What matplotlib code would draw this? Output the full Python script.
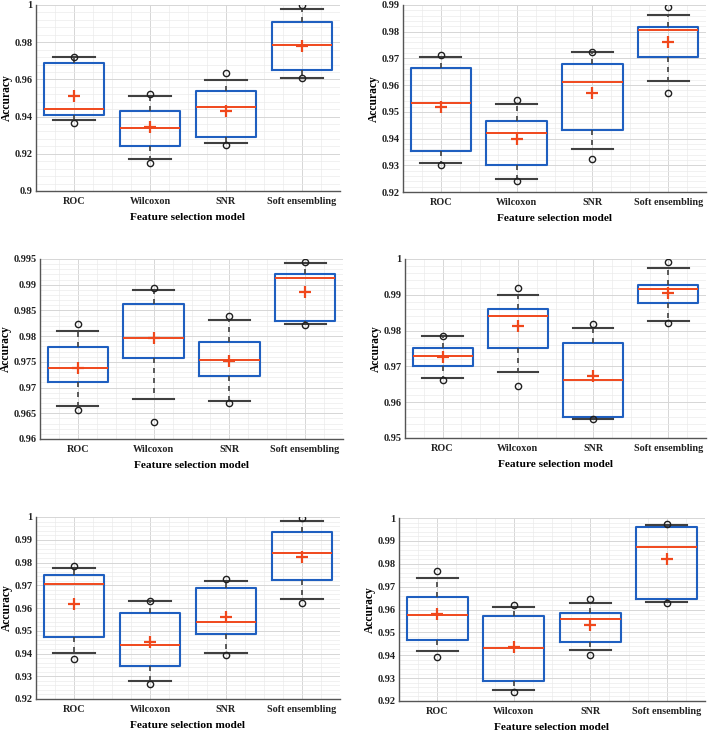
import matplotlib
matplotlib.use('Agg')
import matplotlib.pyplot as plt
from matplotlib.ticker import MultipleLocator, AutoMinorLocator, FuncFormatter

categories = ['ROC', 'Wilcoxon', 'SNR', 'Soft ensembling']

box_top = [
    [0.9689, 0.9431, 0.9540, 0.9907],
    [0.9666, 0.9466, 0.9678, 0.9819],
    [0.9779, 0.9862, 0.9789, 0.9921],
    [0.9752, 0.9860, 0.9765, 0.9928],
    [0.9747, 0.9580, 0.9688, 0.9933],
    [0.9655, 0.9573, 0.9585, 0.9959],
]
box_bottom = [
    [0.9410, 0.9242, 0.9289, 0.9650],
    [0.9354, 0.9301, 0.9432, 0.9704],
    [0.9710, 0.9758, 0.9722, 0.9830],
    [0.9701, 0.9751, 0.9558, 0.9877],
    [0.9471, 0.9347, 0.9486, 0.9723],
    [0.9468, 0.9286, 0.9458, 0.9647],
]
medians = [
    [0.9442, 0.9339, 0.9452, 0.9786],
    [0.9534, 0.9422, 0.9611, 0.9805],
    [0.9738, 0.9797, 0.9753, 0.9914],
    [0.9729, 0.9840, 0.9661, 0.9915],
    [0.9706, 0.9438, 0.9539, 0.9840],
    [0.9576, 0.9431, 0.9560, 0.9873],
]
means = [
    [0.9512, 0.9343, 0.9431, 0.9781],
    [0.9519, 0.9398, 0.9570, 0.9761],
    [0.9739, 0.9796, 0.9752, 0.9886],
    [0.9727, 0.9814, 0.9672, 0.9906],
    [0.9619, 0.9452, 0.9561, 0.9826],
    [0.9579, 0.9437, 0.9532, 0.9821],
]
whisker_high = [
    [0.9718, 0.9512, 0.9598, 0.9977],
    [0.9704, 0.9528, 0.9723, 0.9861],
    [0.9810, 0.9890, 0.9832, 0.9942],
    [0.9784, 0.9899, 0.9808, 0.9974],
    [0.9776, 0.9630, 0.9717, 0.9982],
    [0.9736, 0.9612, 0.9630, 0.9971],
]
whisker_low = [
    [0.9380, 0.9171, 0.9257, 0.9610],
    [0.9310, 0.9248, 0.9360, 0.9614],
    [0.9665, 0.9678, 0.9673, 0.9824],
    [0.9667, 0.9684, 0.9553, 0.9826],
    [0.9403, 0.9278, 0.9404, 0.9640],
    [0.9417, 0.9248, 0.9423, 0.9634],
]
max_points = [
    [0.9722, 0.9522, 0.9632, 0.9998],
    [0.9712, 0.9546, 0.9723, 0.9891],
    [0.9824, 0.9893, 0.9840, 0.9945],
    [0.9785, 0.9918, 0.9818, 0.9991],
    [0.9785, 0.9631, 0.9729, 0.9994],
    [0.9767, 0.9620, 0.9646, 0.9974],
]
min_points = [
    [0.9363, 0.9149, 0.9246, 0.9610],
    [0.9300, 0.9241, 0.9323, 0.9571],
    [0.9656, 0.9633, 0.9670, 0.9821],
    [0.9663, 0.9646, 0.9552, 0.9820],
    [0.9376, 0.9266, 0.9392, 0.9622],
    [0.9391, 0.9240, 0.9402, 0.9630],
]
y_limits = [(0.9, 1.0), (0.92, 0.99), (0.96, 0.995), (0.95, 1.0), (0.92, 1.0), (0.92, 1.0)]
y_steps = [0.02, 0.01, 0.005, 0.01, 0.01, 0.01]

W, H = 709, 736
# axes boxes in pixels: left, top, right, bottom
boxes_px = [
    (36, 5, 340, 191),
    (403, 5, 706, 192),
    (40, 259, 343, 439),
    (405, 259, 706, 438),
    (36, 517, 340, 699),
    (399, 518, 705, 701),
]

plt.rcParams['font.family'] = ['Liberation Serif', 'DejaVu Serif']
plt.rcParams['font.weight'] = 'bold'

BLUE = '#1f5fc0'
RED = '#f0481c'
DARK = '#404040'

fig = plt.figure(figsize=(W / 100, H / 100), dpi=100)

fmt = FuncFormatter(lambda v, p: '%g' % round(v, 4))

for i in range(6):
    l, t, r, b = boxes_px[i]
    ax = fig.add_axes([l / W, 1 - b / H, (r - l) / W, (b - t) / H])
    stats = []
    for j, cat in enumerate(categories):
        stats.append(dict(
            label=cat,
            med=medians[i][j],
            q1=box_bottom[i][j],
            q3=box_top[i][j],
            whislo=whisker_low[i][j],
            whishi=whisker_high[i][j],
            mean=means[i][j],
            fliers=[min_points[i][j], max_points[i][j]],
        ))
    ax.bxp(stats, positions=[1, 2, 3, 4], widths=0.8, capwidths=0.54,
           showmeans=True, showfliers=True,
           boxprops=dict(color=BLUE, linewidth=1.5),
           medianprops=dict(color=RED, linewidth=1.4),
           whiskerprops=dict(color=DARK, linewidth=1.2, linestyle=(0, (3, 3))),
           capprops=dict(color=DARK, linewidth=1.5),
           meanprops=dict(marker='+', markeredgecolor=RED, markersize=8, markeredgewidth=1.6),
           flierprops=dict(marker='o', markerfacecolor='none', markeredgecolor='#202020',
                           markersize=4.5, markeredgewidth=1.0))
    ax.set_xlim(0.5, 4.5)
    ax.set_ylim(*y_limits[i])
    ax.yaxis.set_major_locator(MultipleLocator(y_steps[i]))
    ax.yaxis.set_major_formatter(fmt)
    ax.yaxis.set_minor_locator(AutoMinorLocator(5))
    ax.xaxis.set_minor_locator(MultipleLocator(0.25))
    ax.grid(which='major', color='#d6d6d6', linewidth=0.7)
    ax.grid(which='minor', color='#ebebeb', linewidth=0.5)
    ax.set_axisbelow(True)
    for s in ['top', 'right']:
        ax.spines[s].set_visible(False)
    for s in ['left', 'bottom']:
        ax.spines[s].set_color('#555555')
        ax.spines[s].set_linewidth(1.0)
    ax.tick_params(which='both', direction='in', length=0, colors='#222222')
    ax.tick_params(axis='y', which='major', labelsize=7.5, pad=2.5)
    ax.tick_params(axis='x', which='major', labelsize=7.3, pad=4.5)
    for lab in ax.get_xticklabels() + ax.get_yticklabels():
        lab.set_fontweight('bold')
    ax.set_ylabel('Accuracy', fontsize=8.3, fontweight='bold', labelpad=1)
    ax.set_xlabel('Feature selection model', fontsize=8.2, fontweight='bold', labelpad=5)

fig.savefig('out.png', dpi=100, facecolor='white')
